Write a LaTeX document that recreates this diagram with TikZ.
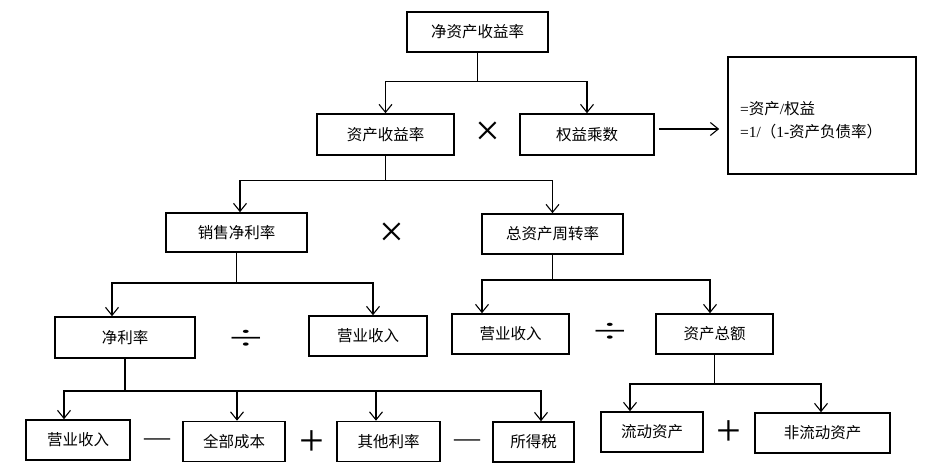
\documentclass[tikz,border=0pt]{standalone}
\usepackage{fontspec}
\usepackage{graphicx}
\setmainfont{Liberation Serif}
\newfontfamily\cjk{Noto Sans CJK SC}
\usetikzlibrary{arrows.meta}

\tikzset{
  box/.style={draw, line width=1.6pt, minimum height=40pt, inner sep=0pt, font=\cjk\fontsize{15.5}{18}\selectfont},
  link/.style={line width=1.5pt},
  arr/.style={line width=1.4pt, -{Straight Barb[length=8pt,width=13pt,line width=1.1pt]}},
  op/.style={inner sep=0pt, font=\fontsize{44}{44}\selectfont}
}

\begin{document}
\begin{tikzpicture}[x=1pt,y=-1pt]
    \useasboundingbox (0,0) rectangle (939,470);

    \node[box, minimum width=141] (jzsy) at (477.5,32) {净资产收益率};

    \node[box, minimum width=137, minimum height=41] (zcsy) at (385.5,134.5) {资产收益率};
    \node[box, minimum width=134, minimum height=41] (qysc) at (587,134.5) {权益乘数};
    \node[op] (mulA) at (488,134) {×};

    \node[box, minimum width=188, minimum height=117, text width=164, inner xsep=12pt, align=left,
          font=\cjk\fontsize{15.5}{23}\selectfont] (note) at (822,115.5)
          {\rule{0pt}{22pt}{\rmfamily =}资产{\rmfamily /}权益\\{\rmfamily =1/}（{\rmfamily 1-}资产负债率）};

    \node[box, minimum width=141, minimum height=39] (xsjl) at (236.5,232.5) {销售净利率};
    \node[box, minimum width=141] (zzczz) at (552.5,234) {总资产周转率};
    \node[op] (mulB) at (392,235) {×};

    \node[box, minimum width=140, minimum height=41] (jll) at (125,337.5) {净利率};
    \node[box, minimum width=118] (yysrA) at (368,336) {营业收入};
    \node[op] (divA) at (246,340) {\scalebox{1.8}[1]{\fontsize{34}{34}\selectfont ÷}};

    \node[box, minimum width=117] (yysrB) at (510.5,334) {营业收入};
    \node[box, minimum width=117] (zcze) at (714.5,334) {资产总额};
    \node[op] (divB) at (610,333) {\scalebox{1.8}[1]{\fontsize{34}{34}\selectfont ÷}};

    \node[box, minimum width=104] (yysrC) at (78,440) {营业收入};
    \node[box, minimum width=102] (qbcb) at (234,441.5) {全部成本};
    \node[box, minimum width=103] (qtll) at (388.5,441.5) {其他利率};
    \node[box, minimum width=81] (sds) at (533.5,442) {所得税};
    \node[op, font=\fontsize{26}{26}\selectfont] (minA) at (157,442) {—};
    \node[op] (plsA) at (312,443) {+};
    \node[op, font=\fontsize{26}{26}\selectfont] (minB) at (467,443) {—};

    \node[box, minimum width=102] (ldzc) at (652,432) {流动资产};
    \node[box, minimum width=135] (fldzc) at (822.5,433) {非流动资产};
    \node[op] (plsB) at (729,433) {+};

    % branches
    \draw[arr] (jzsy.south) -- ++(0,29) -| (zcsy.north);
    \draw[arr] (jzsy.south) -- ++(0,29) -| (qysc.north);
    \draw[arr] ([yshift=5.5pt,xshift=4pt]qysc.east) -- ([yshift=-13.5pt,xshift=-8pt]note.west);

    \draw[arr] (zcsy.south) -- ++(0,25) -| ([xshift=3.5pt]xsjl.north);
    \draw[arr] (zcsy.south) -- ++(0,25) -| (zzczz.north);

    \draw[arr] (xsjl.south) -- ++(0,30) -| ([xshift=-13pt]jll.north);
    \draw[arr] (xsjl.south) -- ++(0,30) -| ([xshift=5pt]yysrA.north);

    \draw[arr] (zzczz.south) -- ++(0,25) -| ([xshift=-28.5pt]yysrB.north);
    \draw[arr] (zzczz.south) -- ++(0,25) -| ([xshift=-4.5pt]zcze.north);

    \draw[arr] (jll.south) -- ++(0,32) -| ([xshift=-14pt]yysrC.north);
    \draw[arr] (jll.south) -- ++(0,32) -| ([xshift=3pt]qbcb.north);
    \draw[arr] (jll.south) -- ++(0,32) -| ([xshift=-12.5pt]qtll.north);
    \draw[arr] (jll.south) -- ++(0,32) -| ([xshift=7.5pt]sds.north);

    \draw[arr] (zcze.south) -- ++(0,29) -| ([xshift=-22pt]ldzc.north);
    \draw[arr] (zcze.south) -- ++(0,29) -| ([xshift=-1.5pt]fldzc.north);

\end{tikzpicture}
\end{document}
